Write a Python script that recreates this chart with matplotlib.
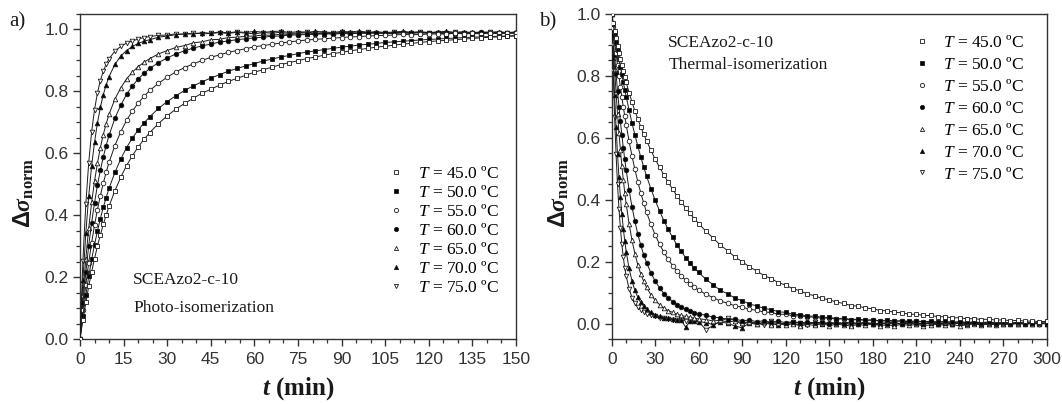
import matplotlib
matplotlib.use("Agg")
import matplotlib.pyplot as plt
from matplotlib.ticker import MultipleLocator, FormatStrFormatter
from matplotlib.lines import Line2D

plt.rcParams['font.family'] = ['Liberation Sans', 'DejaVu Sans']
plt.rcParams['mathtext.fontset'] = 'custom'
plt.rcParams['mathtext.rm'] = 'Liberation Serif'
plt.rcParams['mathtext.it'] = 'Liberation Serif:italic'
plt.rcParams['mathtext.bf'] = 'Liberation Serif:bold:italic'
plt.rcParams['mathtext.sf'] = 'Liberation Sans:bold'
plt.rcParams['mathtext.tt'] = 'Liberation Serif:bold'

# ---------------- data ----------------
temps = ['45.0', '50.0', '55.0', '60.0', '65.0', '70.0', '75.0']

# (a) photo-isomerization, t in min
t_photo = [0, 1, 2, 3, 4, 5, 6, 7, 8, 9, 10, 12, 14, 16, 18, 20, 22, 24,
           27, 30, 33, 36, 39, 42, 45, 48, 51, 54, 57, 60, 63, 66, 69, 72, 75, 78,
           81, 84, 87, 90, 93, 96, 99, 102, 105, 108, 111, 114, 117, 120, 123, 126,
           129, 132, 135, 138, 141, 144, 147, 150]
photo_45 = [0.000, 0.062, 0.118, 0.170, 0.217, 0.260, 0.300, 0.336, 0.370, 0.400, 0.429,
            0.479, 0.522, 0.560, 0.592, 0.620, 0.645, 0.667,
            0.696, 0.721, 0.743, 0.761, 0.778, 0.794, 0.807, 0.820, 0.832, 0.842,
            0.852, 0.862, 0.870, 0.878, 0.886, 0.893, 0.899, 0.906, 0.911, 0.917,
            0.922, 0.926, 0.931, 0.935, 0.939, 0.943, 0.946, 0.949, 0.953, 0.955,
            0.958, 0.961, 0.963, 0.965, 0.967, 0.969, 0.971, 0.973, 0.975, 0.976,
            0.978, 0.979]
photo_50 = [0.000, 0.075, 0.142, 0.202, 0.257, 0.305, 0.349, 0.389, 0.425, 0.457, 0.487,
            0.538, 0.581, 0.618, 0.649, 0.675, 0.698, 0.718,
            0.745, 0.767, 0.786, 0.803, 0.818, 0.831, 0.843, 0.854, 0.865, 0.874,
            0.882, 0.890, 0.898, 0.904, 0.911, 0.916, 0.922, 0.927, 0.931, 0.935,
            0.939, 0.943, 0.946, 0.950, 0.952, 0.955, 0.958, 0.960, 0.962, 0.964,
            0.966, 0.968, 0.969, 0.971, 0.972, 0.974, 0.975, 0.976, 0.977, 0.978,
            0.979, 0.980]
photo_55 = [0.000, 0.093, 0.175, 0.247, 0.311, 0.368, 0.418, 0.463, 0.503, 0.539, 0.571,
            0.625, 0.669, 0.706, 0.736, 0.762, 0.784, 0.803,
            0.826, 0.846, 0.863, 0.877, 0.889, 0.900, 0.910, 0.918, 0.926, 0.932,
            0.938, 0.944, 0.948, 0.952, 0.956, 0.960, 0.963, 0.966, 0.968, 0.970,
            0.972, 0.974, 0.976, 0.977, 0.979, 0.980, 0.981, 0.982, 0.984, 0.983,
            0.984, 0.985, 0.986, 0.985, 0.988, 0.986, 0.987, 0.986, 0.988, 0.987,
            0.988, 0.988]
photo_60 = [0.000, 0.116, 0.215, 0.302, 0.376, 0.440, 0.497, 0.545, 0.588, 0.625, 0.658,
            0.713, 0.755, 0.790, 0.817, 0.840, 0.858, 0.874,
            0.893, 0.908, 0.921, 0.931, 0.940, 0.947, 0.953, 0.959, 0.963, 0.967,
            0.970, 0.973, 0.975, 0.978, 0.979, 0.982, 0.982, 0.984, 0.984, 0.986,
            0.985, 0.987, 0.986, 0.988, 0.987, 0.989, 0.988, 0.987, 0.989, 0.988,
            0.990, 0.988, 0.989, 0.987, 0.990, 0.988, 0.989, 0.991, 0.988, 0.990,
            0.989, 0.990]
photo_65 = [0.000, 0.142, 0.260, 0.358, 0.441, 0.510, 0.568, 0.618, 0.660, 0.695, 0.726,
            0.775, 0.811, 0.840, 0.862, 0.880, 0.894, 0.906,
            0.921, 0.932, 0.942, 0.948, 0.957, 0.960, 0.967, 0.968, 0.974, 0.975,
            0.978, 0.979, 0.982, 0.981, 0.985, 0.984, 0.986, 0.985, 0.988, 0.986,
            0.989, 0.987, 0.990, 0.988, 0.991, 0.988, 0.990, 0.987, 0.991, 0.989,
            0.990, 0.988, 0.992, 0.989, 0.990, 0.988, 0.991, 0.989, 0.992, 0.989,
            0.990, 0.991]
photo_70 = [0.000, 0.190, 0.342, 0.462, 0.559, 0.636, 0.698, 0.748, 0.789, 0.821, 0.848,
            0.887, 0.914, 0.932, 0.945, 0.955, 0.962, 0.967,
            0.975, 0.979, 0.983, 0.986, 0.985, 0.990, 0.988, 0.992, 0.989, 0.993,
            0.990, 0.994, 0.991, 0.993, 0.995, 0.990, 0.993, 0.991, 0.994, 0.992,
            0.990, 0.994, 0.992, 0.995, 0.991, 0.993, 0.990, 0.992, 0.994, 0.991,
            0.993, 0.990, 0.992, 0.994, 0.991, 0.993, 0.990, 0.992, 0.991, 0.993,
            0.990, 0.992]
photo_75 = [0.000, 0.253, 0.436, 0.570, 0.669, 0.741, 0.795, 0.835, 0.865, 0.888, 0.905,
            0.930, 0.945, 0.956, 0.963, 0.969, 0.974, 0.977,
            0.981, 0.982, 0.986, 0.984, 0.989, 0.986, 0.987, 0.990, 0.987, 0.991,
            0.988, 0.986, 0.990, 0.988, 0.991, 0.987, 0.989, 0.992, 0.988, 0.990,
            0.987, 0.991, 0.989, 0.988, 0.992, 0.989, 0.987, 0.991, 0.990, 0.988,
            0.992, 0.989, 0.990, 0.987, 0.991, 0.989, 0.990, 0.988, 0.991, 0.989,
            0.990, 0.988]

# (b) thermal isomerization, t in min
t_thermal = [0, 1, 2, 3, 4, 5, 6, 7, 8, 9, 10, 12, 14, 16, 18, 20, 22, 24,
             27, 30, 33, 36, 39, 42, 45, 48, 51, 54, 57, 60,
             65, 70, 75, 80, 85, 90, 95, 100, 105, 110, 115, 120, 125, 130, 135, 140,
             145, 150, 155, 160, 165, 170, 175, 180, 185, 190, 195, 200, 205, 210, 215,
             220, 225, 230, 235, 240, 245, 250, 255, 260, 265, 270, 275, 280, 285, 290,
             295, 300]
thermal_45 = [1.000, 0.972, 0.946, 0.921, 0.897, 0.875, 0.854, 0.834, 0.815, 0.796, 0.779,
              0.746, 0.715, 0.687, 0.661, 0.636, 0.613, 0.591,
              0.560, 0.531, 0.505, 0.480, 0.456, 0.434, 0.413, 0.393, 0.374, 0.356, 0.339, 0.323,
              0.298, 0.276, 0.253, 0.235, 0.215, 0.200, 0.183, 0.170, 0.155, 0.145,
              0.132, 0.124, 0.112, 0.106, 0.095, 0.090, 0.081, 0.077, 0.069, 0.065,
              0.058, 0.056, 0.050, 0.048, 0.042, 0.041, 0.036, 0.035, 0.030, 0.030,
              0.026, 0.026, 0.022, 0.022, 0.018, 0.019, 0.015, 0.016, 0.013, 0.014,
              0.011, 0.012, 0.009, 0.010, 0.008, 0.008, 0.006, 0.007]
thermal_50 = [1.000, 0.969, 0.940, 0.911, 0.883, 0.856, 0.830, 0.805, 0.780, 0.756, 0.733,
              0.689, 0.648, 0.610, 0.573, 0.539, 0.507, 0.477,
              0.436, 0.398, 0.364, 0.332, 0.304, 0.278, 0.254, 0.233, 0.213, 0.196, 0.179, 0.165,
              0.143, 0.125, 0.107, 0.096, 0.082, 0.074, 0.063, 0.057, 0.049, 0.045,
              0.038, 0.036, 0.030, 0.029, 0.024, 0.024, 0.020, 0.020, 0.016, 0.017,
              0.013, 0.014, 0.011, 0.012, 0.009, 0.011, 0.008, 0.009, 0.007, 0.008,
              0.006, 0.007, 0.005, 0.007, 0.004, 0.006, 0.004, 0.005, 0.003, 0.005,
              0.003, 0.004, 0.002, 0.004, 0.002, 0.003, 0.002, 0.002]
thermal_55 = [1.000, 0.956, 0.914, 0.873, 0.835, 0.799, 0.764, 0.731, 0.700, 0.670, 0.642,
              0.589, 0.541, 0.498, 0.458, 0.423, 0.390, 0.360,
              0.321, 0.286, 0.256, 0.230, 0.207, 0.187, 0.169, 0.154, 0.140, 0.128, 0.117, 0.108,
              0.094, 0.084, 0.072, 0.066, 0.057, 0.053, 0.046, 0.043, 0.037, 0.036,
              0.030, 0.030, 0.025, 0.025, 0.021, 0.021, 0.017, 0.018, 0.014, 0.015,
              0.012, 0.013, 0.010, 0.011, 0.008, 0.009, 0.007, 0.008, 0.006, 0.007,
              0.005, 0.006, 0.004, 0.005, 0.003, 0.005, 0.002, 0.004, 0.002, 0.003,
              0.001, 0.003, 0.001, 0.002, 0.001, 0.002, 0.000, 0.001]
thermal_60 = [1.000, 0.931, 0.867, 0.807, 0.752, 0.701, 0.653, 0.609, 0.568, 0.530, 0.495,
              0.432, 0.377, 0.330, 0.289, 0.254, 0.223, 0.197,
              0.164, 0.137, 0.115, 0.097, 0.083, 0.071, 0.061, 0.053, 0.046, 0.040, 0.035, 0.031,
              0.027, 0.020, 0.019, 0.013, 0.014, 0.009, 0.011, 0.006, 0.009, 0.004,
              0.007, 0.003, 0.006, 0.002, 0.005, 0.001, 0.004, 0.000, 0.003, -0.001,
              0.003, 0.000, 0.002, -0.002, 0.002, 0.000, 0.003, -0.001, 0.001, 0.002,
              -0.001, 0.002, 0.000, 0.001, -0.002, 0.002, 0.000, 0.001, -0.001, 0.001,
              0.000, 0.002, -0.001, 0.001, 0.000, 0.001, 0.000, 0.000]
thermal_65 = [1.000, 0.907, 0.823, 0.747, 0.678, 0.616, 0.561, 0.510, 0.464, 0.423, 0.386,
              0.322, 0.269, 0.226, 0.190, 0.161, 0.137, 0.117,
              0.093, 0.075, 0.061, 0.050, 0.042, 0.036, 0.030, 0.026, 0.023, 0.020, 0.017, 0.015,
              0.013, 0.008, 0.011, 0.004, 0.009, 0.002, 0.006, -0.002, 0.004, -0.004,
              0.001, -0.006, 0.000, -0.008, -0.003, -0.006, 0.001, -0.007, -0.002, -0.005,
              -0.008, -0.003, -0.006, -0.001, -0.007, -0.004, -0.008, -0.002, -0.006, -0.003,
              -0.007, -0.004, -0.002, -0.006, -0.003, -0.008, -0.004, -0.001, -0.005, -0.002,
              -0.004, -0.001, -0.003, 0.000, -0.002, 0.000, -0.001, 0.000]
thermal_70 = [1.000, 0.859, 0.738, 0.635, 0.548, 0.473, 0.409, 0.354, 0.307, 0.267, 0.232,
              0.178, 0.137, 0.107, 0.085, 0.068, 0.056, 0.046,
              0.036, 0.028, 0.023, 0.019, 0.017, 0.014, 0.012, 0.011, -0.012, 0.008, 0.007, 0.006,
              0.003, -0.004, 0.005, 0.001, -0.008, -0.014, 0.002, -0.003, 0.004, 0.000,
              -0.005, 0.003, 0.001, -0.004, 0.002, 0.000, -0.003, 0.004, -0.001, 0.002,
              -0.004, 0.001, 0.003, -0.002, 0.000, 0.002, -0.003, 0.001, 0.004, -0.002,
              0.000, 0.003, -0.003, 0.001, -0.001, 0.002, -0.002, 0.003, 0.000, -0.001,
              0.002, -0.002, 0.001, 0.000, 0.002, -0.001, 0.001, 0.000]
thermal_75 = [1.000, 0.816, 0.667, 0.547, 0.450, 0.371, 0.308, 0.256, 0.214, 0.180, 0.153,
              0.112, 0.084, 0.066, 0.053, 0.044, 0.037, 0.032,
              0.026, 0.023, 0.019, 0.017, 0.015, 0.013, 0.012, 0.010, 0.009, 0.008, 0.007, 0.006,
              -0.020, -0.006, 0.008, 0.018, 0.012, -0.004, 0.006, 0.002, -0.005, 0.007,
              0.003, -0.002, 0.006, 0.001, -0.004, 0.005, 0.002, -0.003, 0.004, 0.000,
              0.006, -0.002, 0.003, 0.001, -0.005, 0.004, 0.002, -0.001, 0.005, 0.000,
              -0.003, 0.004, 0.001, -0.002, 0.003, 0.000, -0.004, 0.002, 0.001, -0.002,
              0.003, 0.000, -0.002, 0.002, 0.001, -0.001, 0.002, 0.000]

photo = [photo_45, photo_50, photo_55, photo_60, photo_65, photo_70, photo_75]
thermal = [thermal_45, thermal_50, thermal_55, thermal_60, thermal_65, thermal_70, thermal_75]

# ---------------- styles ----------------
mk = ['s', 's', 'o', 'o', '^', '^', 'v']
face = ['white', 'black', 'white', 'black', 'white', 'black', 'white']
ink = '#1a1a1a'

W, H = 1062, 404
fig = plt.figure(figsize=(W / 100, H / 100), dpi=100)
axL = fig.add_axes([80 / W, 65 / H, 436 / W, 325 / H])
axR = fig.add_axes([611.7 / W, 65 / H, 435 / W, 325 / H])

serif = 'Liberation Serif'


def style_axes(ax):
    for sp in ax.spines.values():
        sp.set_color('#333333')
        sp.set_linewidth(1.0)
    ax.tick_params(which='major', direction='out', length=5, width=1.0,
                   labelsize=12.5, colors='#333333', pad=3, top=False, right=False)
    ax.tick_params(which='minor', direction='out', length=3, width=0.9,
                   colors='#333333', top=False, right=False)
    ax.tick_params(axis='x', which='major', pad=4)
    ax.yaxis.set_major_formatter(FormatStrFormatter('%.1f'))


def draw(ax, t, series):
    for i in range(len(series) - 1, -1, -1):
        ax.plot(t, series[i], color=ink, lw=0.7, marker=mk[i], ms=3.3,
                mfc=face[i], mec=ink, mew=0.6, zorder=3)


def legend(ax, x, y, spacing):
    handles = [Line2D([], [], ls='none', marker=mk[i], ms=3.0, mfc=face[i],
                      mec=ink, mew=0.6) for i in range(len(temps))]
    labels = [r'$T$ = ' + s + ' ºC' for s in temps]
    ax.legend(handles, labels, loc='upper left', bbox_to_anchor=(x, y),
              frameon=False, prop={'family': serif, 'size': 12.5},
              handlelength=1.0, handletextpad=0.75, labelspacing=spacing,
              borderpad=0, borderaxespad=0)


# ---- panel a ----
draw(axL, t_photo, photo)
axL.set_xlim(0, 150)
axL.set_ylim(0, 1.05)
axL.xaxis.set_major_locator(MultipleLocator(15))
axL.xaxis.set_minor_locator(MultipleLocator(5))
axL.yaxis.set_major_locator(MultipleLocator(0.2))
axL.yaxis.set_minor_locator(MultipleLocator(0.05))
style_axes(axL)
legend(axL, 0.706, 0.534, 0.17)
axL.text(0.122, 0.1815, 'SCEAzo2-c-10', transform=axL.transAxes, family=serif,
         fontsize=12.5, va='center', ha='left', color=ink)
axL.text(0.122, 0.0954, 'Photo-isomerization', transform=axL.transAxes, family=serif,
         fontsize=12.5, va='center', ha='left', color=ink)

# ---- panel b ----
draw(axR, t_thermal, thermal)
axR.set_xlim(0, 300)
axR.set_ylim(-0.05, 1.0)
axR.xaxis.set_major_locator(MultipleLocator(30))
axR.xaxis.set_minor_locator(MultipleLocator(10))
axR.yaxis.set_major_locator(MultipleLocator(0.2))
axR.yaxis.set_minor_locator(MultipleLocator(0.05))
style_axes(axR)
legend(axR, 0.6926, 0.935, 0.33)
axR.text(0.130, 0.910, 'SCEAzo2-c-10', transform=axR.transAxes, family=serif,
         fontsize=12.5, va='center', ha='left', color=ink)
axR.text(0.130, 0.843, 'Thermal-isomerization', transform=axR.transAxes, family=serif,
         fontsize=12.5, va='center', ha='left', color=ink)

for ax, lx in ((axL, -0.100), (axR, -0.094)):
    ax.set_xlabel(r'$\mathbf{t}$ (min)', family=serif, fontweight='bold',
                  fontsize=18, color=ink)
    ax.xaxis.set_label_coords(0.5, -0.112)
    ax.set_ylabel(r'$\mathsf{\Delta}\mathbf{\sigma}_{\mathtt{norm}}$',
                  fontsize=17, color=ink)
    ax.yaxis.set_label_coords(lx, 0.45)

fig.text(17 / W, 1 - 22 / H, 'a)', family=serif, fontsize=15, ha='center',
         va='center', color=ink)
fig.text(548 / W, 1 - 22 / H, 'b)', family=serif, fontsize=15, ha='center',
         va='center', color=ink)

fig.savefig('out.png', dpi=100)
